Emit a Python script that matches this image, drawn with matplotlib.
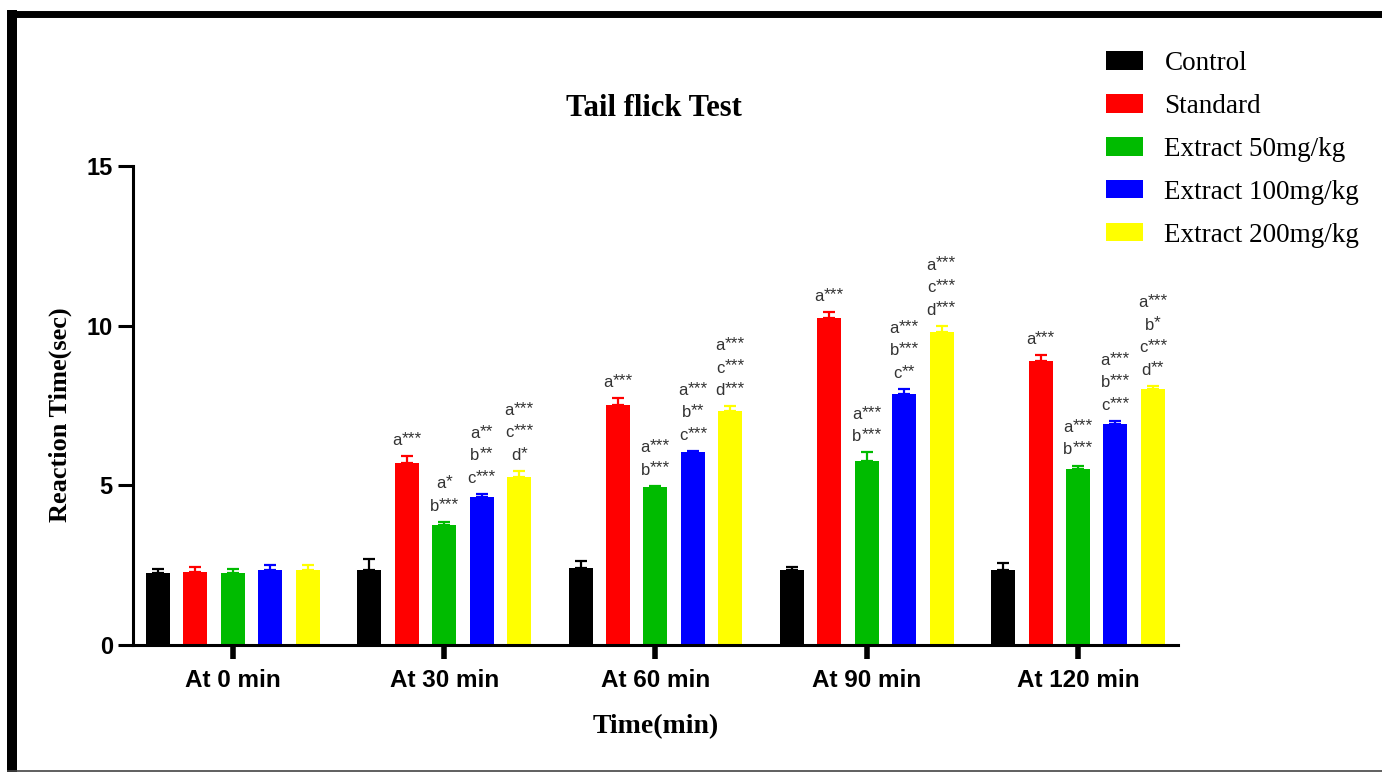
import numpy as np
import matplotlib
matplotlib.use('Agg')
import matplotlib.pyplot as plt
from matplotlib.patches import Patch
from matplotlib.lines import Line2D

plt.rcParams['font.family'] = 'Liberation Sans'

time_labels = ['At 0 min', 'At 30 min', 'At 60 min', 'At 90 min', 'At 120 min']
groups = ['Control', 'Standard', 'Extract 50mg/kg', 'Extract 100mg/kg', 'Extract 200mg/kg']
colors = ['#000000', '#ff0000', '#00bb00', '#0000ff', '#ffff00']

control_mean = [2.24, 2.35, 2.40, 2.35, 2.35]
control_sem = [0.14, 0.33, 0.24, 0.10, 0.21]
standard_mean = [2.30, 5.69, 7.51, 10.25, 8.90]
standard_sem = [0.15, 0.23, 0.21, 0.18, 0.17]
ext50_mean = [2.24, 3.76, 4.94, 5.75, 5.51]
ext50_sem = [0.14, 0.09, 0.05, 0.28, 0.11]
ext100_mean = [2.35, 4.65, 6.04, 7.86, 6.92]
ext100_sem = [0.15, 0.08, 0.04, 0.16, 0.10]
ext200_mean = [2.34, 5.27, 7.33, 9.79, 8.02]
ext200_sem = [0.16, 0.18, 0.15, 0.21, 0.10]

# significance letters above each bar (per series, per time point)
control_sig = [[], [], [], [], []]
standard_sig = [[], ['a***'], ['a***'], ['a***'], ['a***']]
ext50_sig = [[], ['a*', 'b***'], ['a***', 'b***'], ['a***', 'b***'], ['a***', 'b***']]
ext100_sig = [[], ['a**', 'b**', 'c***'], ['a***', 'b**', 'c***'],
              ['a***', 'b***', 'c**'], ['a***', 'b***', 'c***']]
ext200_sig = [[], ['a***', 'c***', 'd*'], ['a***', 'c***', 'd***'],
              ['a***', 'c***', 'd***'], ['a***', 'b*', 'c***', 'd**']]

means = [control_mean, standard_mean, ext50_mean, ext100_mean, ext200_mean]
sems = [control_sem, standard_sem, ext50_sem, ext100_sem, ext200_sem]
sigs = [control_sig, standard_sig, ext50_sig, ext100_sig, ext200_sig]

FS_LETTER = 12
FS_STAR = 12.5
ANN_COLOR = '#333333'


def annotate_sig(ax, xi, yi, label, dy):
    # letter and raised stars drawn as two texts, centred together on the bar
    letter, stars = label[0], label[1:]
    wl = 0.556 * FS_LETTER
    ws = 0.389 * FS_STAR * len(stars)
    split = (wl - ws) / 2
    ax.annotate(letter, (xi, yi), xytext=(split, dy), textcoords='offset points',
                ha='right', va='baseline', fontsize=FS_LETTER, color=ANN_COLOR)
    ax.annotate(stars, (xi, yi), xytext=(split, dy + 1.5), textcoords='offset points',
                ha='left', va='baseline', fontsize=FS_STAR, color=ANN_COLOR)


fig = plt.figure(figsize=(13.82, 7.72), dpi=100)
ax = fig.add_axes([0.0962, 0.1645, 0.7562, 0.6205])

x = np.arange(len(time_labels))
pitch = 0.177
width = 0.1136

for i, (m, s, sg, c) in enumerate(zip(means, sems, sigs, colors)):
    xs = x + (i - 2) * pitch
    ax.bar(xs, m, width, color=c, edgecolor='none', zorder=2)
    ax.errorbar(xs, m, yerr=[np.zeros(len(s)), s], fmt='none', ecolor=c,
                elinewidth=1.6, capsize=4.5, capthick=1.6, zorder=3)
    for xi, mi, si, labels in zip(xs, m, s, sg):
        for k, lab in enumerate(reversed(labels)):
            annotate_sig(ax, xi, mi + si, lab, 8 + 16.2 * k)

ax.set_xlim(-0.473, 4.473)
ax.set_ylim(0, 15)
ax.set_yticks([0, 5, 10, 15])
ax.set_xticks(x)
ax.set_xticklabels(time_labels)
for sp in ['top', 'right']:
    ax.spines[sp].set_visible(False)
for sp in ['left', 'bottom']:
    ax.spines[sp].set_linewidth(2.2)
ax.tick_params(axis='y', direction='out', length=11, width=2.2, pad=3.5, labelsize=17)
ax.tick_params(axis='x', direction='out', length=10, width=4, pad=7, labelsize=17.5)
for t in ax.get_xticklabels() + ax.get_yticklabels():
    t.set_fontweight('bold')

ax.set_ylabel('Reaction Time(sec)', fontsize=19, fontweight='bold', family='Liberation Serif')
ax.yaxis.label.set(ha='center', va='center')
ax.yaxis.set_label_coords(-0.070, 0.48)
ax.set_xlabel('Time(min)', fontsize=20, fontweight='bold', family='Liberation Serif')
ax.xaxis.label.set(ha='center', va='center')
ax.xaxis.set_label_coords(0.5, -0.171)

fig.text(654 / 1382, 1 - 108 / 772, 'Tail flick Test', ha='center', va='center',
         fontsize=22, fontweight='bold', family='Liberation Serif')

handles = [Patch(facecolor=c, edgecolor='none') for c in colors]
fig.legend(handles, groups, loc='upper left', bbox_to_anchor=(1106 / 1382, 1 - 51 / 772),
           frameon=False, borderpad=0, borderaxespad=0, handlelength=1.36,
           handleheight=0.68, handletextpad=0.8, labelspacing=0.66,
           prop={'family': 'Liberation Serif', 'size': 19.5})

# outer frame
fig.add_artist(Line2D([12 / 1382, 12 / 1382], [0, 1 - 10 / 772], color='black',
                      lw=7.2, transform=fig.transFigure, solid_capstyle='butt'))
fig.add_artist(Line2D([7 / 1382, 1], [1 - 13.5 / 772, 1 - 13.5 / 772], color='black',
                      lw=5, transform=fig.transFigure, solid_capstyle='butt'))
fig.add_artist(Line2D([7 / 1382, 1], [1 - 770.5 / 772, 1 - 770.5 / 772], color='#444444',
                      lw=1.2, transform=fig.transFigure, solid_capstyle='butt'))

fig.savefig('out.png', dpi=100)
